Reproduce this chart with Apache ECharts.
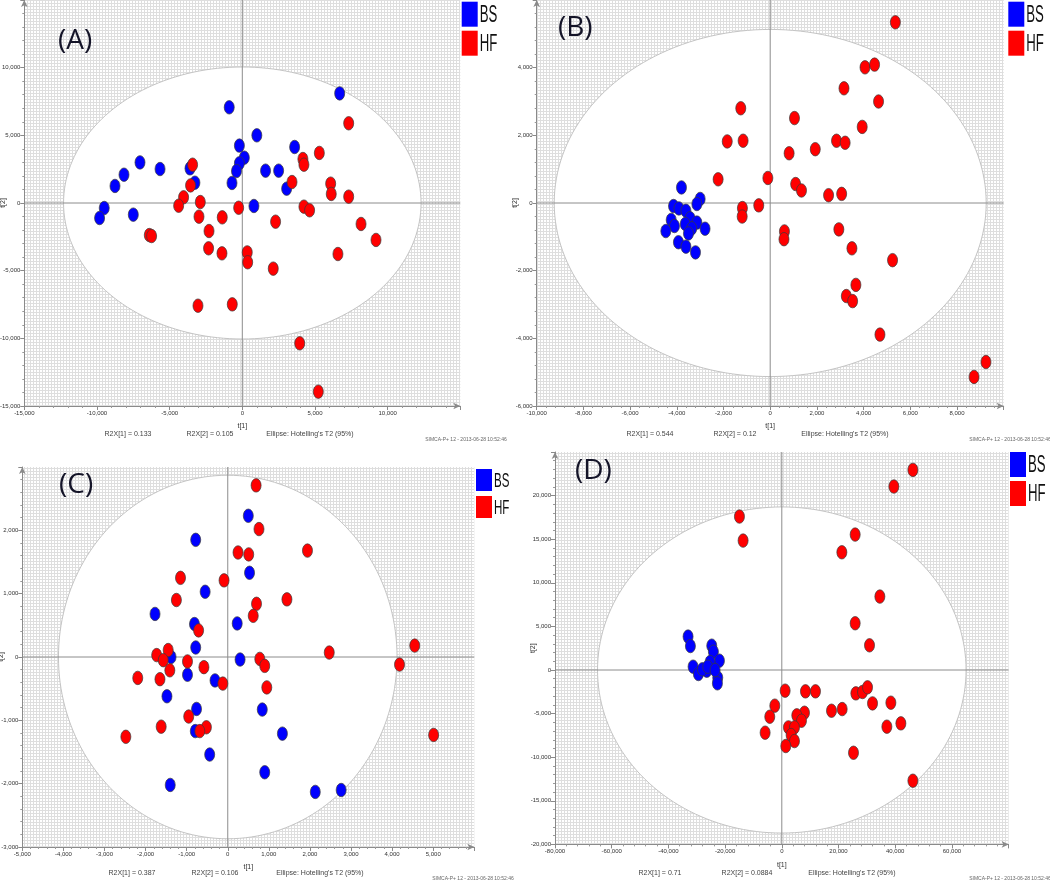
<!DOCTYPE html>
<html>
<head>
<meta charset="utf-8">
<script src="https://cdn.jsdelivr.net/npm/echarts@6/dist/echarts.min.js"></script>
<style>
html,body{margin:0;padding:0;background:#fff;}
#chart{width:1050px;height:882px;}
</style>
</head>
<body>
<div id="chart"></div>
<script>
// ---------------- DATA ----------------
const groups = ['BS', 'HF'];

// Panel A  [t1, t2]
const aBS = [[6700,8100],[-900,7070],[1000,5000],[-200,4240],[3600,4140],[140,3350],[-200,2930],[-400,2360],
  [-7040,3000],[-5660,2510],[-8140,2090],[-8760,1260],[-3600,2560],[-3260,1500],[-710,1480],[1600,2390],
  [2500,2390],[3050,1060],[-9500,-370],[-9820,-1110],[-7500,-860],[800,-220]];
const aHF = [[7320,5890],[5300,3700],[4170,3250],[4240,2830],[3420,1550],[-3420,2830],[-3560,1300],[-4040,420],
  [-4380,-200],[-2890,70],[-2980,-1010],[-1380,-1060],[-250,-350],[-2290,-2070],[-2320,-3350],[-1400,-3720],
  [340,-3650],[370,-4380],[2290,-1380],[2130,-4850],[-6400,-2370],[-6240,-2440],[-3050,-7590],[-690,-7490],
  [3950,-10370],[5230,-13940],[6080,1430],[6120,670],[7320,470],[4240,-270],[4630,-540],[8170,-1550],
  [9200,-2730],[6580,-3770]];

// Panel B
const bBS = [[-3800,460],[-3000,120],[-3140,-30],[-4140,-90],[-3910,-160],[-3610,-230],[-3430,-450],[-4240,-500],
  [-3140,-580],[-4100,-680],[-3640,-620],[-3360,-750],[-2790,-760],[-4470,-830],[-3500,-900],[-3930,-1160],
  [-3610,-1290],[-3200,-1460]];
const bHF = [[5360,5340],[4060,4010],[4470,4090],[3160,3390],[4640,3000],[3940,2250],[-1260,2800],[1040,2510],
  [-1840,1820],[-1160,1840],[2840,1840],[3210,1780],[1930,1590],[810,1470],[-2230,700],[-100,740],
  [1090,560],[1340,370],[2500,230],[3060,270],[-490,-70],[-1190,-150],[-1200,-400],[610,-840],
  [590,-1070],[2940,-780],[3500,-1340],[5240,-1690],[3670,-2420],[3260,-2750],[3530,-2900],[4700,-3890],
  [9240,-4700],[8730,-5140]];

// Panel C
const cBS = [[500,2230],[-780,1850],[530,1330],[-550,1030],[-1770,680],[-810,520],[230,530],[-780,150],
  [-1380,0],[300,-40],[-980,-280],[-310,-370],[-1480,-620],[-760,-820],[840,-830],[-790,-1170],
  [1330,-1210],[-440,-1540],[900,-1820],[-1400,-2020],[2130,-2130],[2760,-2100]];
const cHF = [[690,2710],[760,2020],[250,1650],[510,1620],[1940,1680],[-1150,1250],[-90,1210],[-1250,900],
  [1440,910],[700,840],[620,650],[-710,420],[-1730,30],[-1450,110],[-1570,-50],[-980,-70],
  [-1410,-210],[-580,-160],[-2190,-330],[-1650,-350],[-120,-420],[780,-30],[900,-140],[950,-480],
  [2470,70],[4550,180],[4180,-120],[5010,-1230],[-950,-940],[-1620,-1100],[-520,-1110],[-680,-1170],
  [-2480,-1260]];

// Panel D
const dBS = [[-33060,3830],[-32240,2750],[-24710,2790],[-24120,2100],[-22000,1070],[-31290,380],[-29410,-460],
  [-26470,-80],[-25290,920],[-22590,-880],[-22710,-1530],[-28000,80],[-26120,380],[-23530,0]];
const dHF = [[46240,22950],[39530,21040],[-14940,17600],[-13650,14840],[25880,15530],[21180,13500],[34590,8420],
  [25880,5360],[30940,2830],[1180,-2370],[8350,-2450],[11880,-2450],[26120,-2680],[28470,-2520],
  [30240,-1990],[32000,-3830],[38470,-3750],[-2470,-4090],[-4240,-5360],[17530,-4670],[21290,-4480],
  [8000,-4900],[5290,-5200],[6940,-5820],[2350,-6580],[4470,-6580],[-5880,-7190],[3290,-7460],
  [4470,-8150],[1410,-8720],[37060,-6500],[42000,-6120],[25290,-9490],[46240,-12700]];

// Hotelling's T2 (95%) ellipse semi-axes [t1, t2]
const ellipseA = [12300, 10050];
const ellipseB = [9250, 5130];
const ellipseC = [4120, 2870];
const ellipseD = [65000, 18700];

// Axis ranges / tick steps  [min, max, interval]
const xTicksA = [-15000, 15000, 5000];
const yTicksA = [-15000, 15000, 5000];
const xTicksB = [-10000, 10000, 2000];
const yTicksB = [-6000, 6000, 2000];
const xTicksC = [-5000, 6000, 1000];
const yTicksC = [-3000, 3000, 1000];
const xTicksD = [-80000, 80000, 20000];
const yTicksD = [-20000, 25000, 5000];

const panelLabels = ['(A)', '(B)', '(C)', '(D)'];
const r2x1 = ['R2X[1] = 0.133', 'R2X[1] = 0.544', 'R2X[1] = 0.387', 'R2X[1] = 0.71'];
const r2x2 = ['R2X[2] = 0.105', 'R2X[2] = 0.12', 'R2X[2] = 0.106', 'R2X[2] = 0.0884'];
const ellipseText = "Ellipse: Hotelling's T2 (95%)";
const stampText = 'SIMCA-P+ 12 - 2013-06-28 10:52:46';

// ---------------- STYLE / LAYOUT ----------------
const BLUE = '#0000ff', RED = '#ff0000';
const SANS = "'Liberation Sans', Arial, sans-serif";

// fine dotted background pattern
const pc = document.createElement('canvas');
pc.width = 3; pc.height = 3;
const pctx = pc.getContext('2d');
pctx.fillStyle = '#ffffff'; pctx.fillRect(0,0,3,3);
pctx.fillStyle = '#dedede'; pctx.fillRect(0,0,3,1); pctx.fillRect(0,0,1,3);
const bgPattern = {image: pc, repeat: 'repeat'};

const grids = [
  {left: 24.3, top: 0, width: 436, height: 406},
  {left: 536.7, top: 0, width: 467, height: 406},
  {left: 22.3, top: 467, width: 452, height: 380},
  {left: 555, top: 452, width: 453.6, height: 392.4}
];
const xT = [xTicksA, xTicksB, xTicksC, xTicksD];
const yT = [yTicksA, yTicksB, yTicksC, yTicksD];
const ells = [ellipseA, ellipseB, ellipseC, ellipseD];
const dataBS = [aBS, bBS, cBS, dBS];
const dataHF = [aHF, bHF, cHF, dHF];

function fmt(v){ return (v < 0 ? '-' : '') + Math.abs(v).toLocaleString('en-US'); }

function axisCommon(t){
  return {
    type: 'value', min: t[0], max: t[1], interval: t[2],
    axisLine: {show: true, onZero: false, lineStyle: {color: '#8a8a8a', width: 1}, symbol: ['none','arrow'], symbolSize: [5, 7]},
    axisTick: {show: true, length: 4, lineStyle: {color: '#8a8a8a'}},
    minorTick: {show: true, splitNumber: 5, length: 2, lineStyle: {color: '#9a9a9a'}},
    splitLine: {show: false},
    axisLabel: {show: true, fontSize: 6, color: '#333', fontFamily: SANS, margin: 4, showMaxLabel: false, formatter: fmt},
    nameTextStyle: {fontSize: 7, color: '#333', fontFamily: SANS},
    nameMoveOverlap: false
  };
}

const option = {
  animation: false,
  backgroundColor: '#ffffff',
  grid: grids.map(g => Object.assign({show: true, backgroundColor: bgPattern, borderWidth: 0, containLabel: false, outerBoundsMode: 'none'}, g)),
  xAxis: xT.map((t, i) => Object.assign(axisCommon(t), {gridIndex: i, name: 't[1]', nameLocation: 'middle', nameGap: 17})),
  yAxis: yT.map((t, i) => Object.assign(axisCommon(t), {gridIndex: i, name: 't[2]', nameLocation: 'middle', nameGap: 18})),
  series: [],
  graphic: []
};

grids.forEach((g, i) => {
  const e = ells[i], xt = xT[i], yt = yT[i];
  option.series.push({
    type: 'custom', xAxisIndex: i, yAxisIndex: i, silent: true, z: 1,
    data: [[0, 0]],
    renderItem: function(params, api){
      const pts = [];
      for (let k = 0; k < 180; k++){
        const a = k / 180 * Math.PI * 2;
        pts.push(api.coord([e[0] * Math.cos(a), e[1] * Math.sin(a)]));
      }
      const h1 = api.coord([xt[0], 0]), h2 = api.coord([xt[1], 0]);
      const v1 = api.coord([0, yt[0]]), v2 = api.coord([0, yt[1]]);
      return {type: 'group', children: [
        {type: 'polygon', shape: {points: pts}, style: {fill: '#ffffff', stroke: '#c4c4c4', lineWidth: 1}},
        {type: 'line', shape: {x1: h1[0], y1: h1[1], x2: h2[0], y2: h2[1]}, style: {stroke: '#8c8c8c', lineWidth: 1}},
        {type: 'line', shape: {x1: v1[0], y1: v1[1], x2: v2[0], y2: v2[1]}, style: {stroke: '#8c8c8c', lineWidth: 1}}
      ]};
    }
  });
  [['BS', dataBS[i], BLUE], ['HF', dataHF[i], RED]].forEach(s => {
    option.series.push({
      type: 'scatter', name: s[0], xAxisIndex: i, yAxisIndex: i, z: 3,
      data: s[1], symbol: 'circle', symbolSize: [10, 13.5],
      itemStyle: {color: s[2], borderColor: '#3a3a3a', borderWidth: 0.7, opacity: 1}
    });
  });
});

// legends (swatch + condensed label) for each panel
const legendPos = [[461.7, 1.7, 24], [1008.3, 1.7, 24], [476, 469, 21], [1010, 452, 24]];
legendPos.forEach(p => {
  const h = p[2] + 1, gap = p[2] === 21 ? 5 : 4;
  [[BLUE, groups[0]], [RED, groups[1]]].forEach((it, k) => {
    const y = p[1] + k * (h + gap);
    option.graphic.push({type: 'rect', shape: {x: p[0], y: y, width: 16, height: h}, style: {fill: it[0]}, z: 10});
    option.graphic.push({
      type: 'text', x: p[0] + 18, y: y + h / 2 + 1, scaleX: 0.55, z: 10,
      style: {text: it[1], font: p[2] + "px " + SANS, fill: '#111', textVerticalAlign: 'middle'}
    });
  });
});

// panel letters
const labelPos = [[58, 33], [558, 20], [59, 477], [575, 463]];
labelPos.forEach((p, i) => option.graphic.push({
  type: 'text', left: p[0], top: p[1] - 6, z: 10,
  style: {text: panelLabels[i], font: "28px 'Open Sans', sans-serif", fill: '#141428'}
}));

// footer texts
const footY = [431, 431, 870, 870];
const footX = [[128, 210, 310, 466], [650, 735, 845, 1010], [132, 215, 320, 473], [660, 747, 852, 1010]];
const stampY = [437, 437, 876, 876];
grids.forEach((g, i) => {
  const fx = footX[i];
  [r2x1[i], r2x2[i], ellipseText].forEach((t, k) => option.graphic.push({
    type: 'text', x: fx[k], y: footY[i], z: 10,
    style: {text: t, font: "7px " + SANS, fill: '#444', textAlign: 'center'}
  }));
  option.graphic.push({
    type: 'text', x: fx[3], y: stampY[i], z: 10,
    style: {text: stampText, font: "5px " + SANS, fill: '#666', textAlign: 'center'}
  });
});

const chart = echarts.init(document.getElementById('chart'), null, {renderer: 'canvas'});
chart.setOption(option);
</script>
</body>
</html>
